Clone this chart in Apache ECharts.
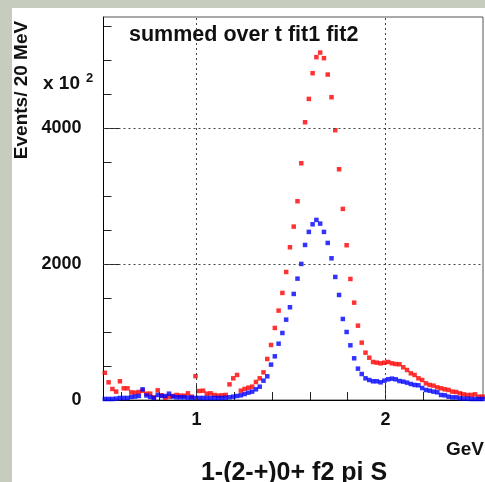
<!DOCTYPE html>
<html>
<head>
<meta charset="utf-8">
<script src="https://cdn.jsdelivr.net/npm/echarts@6/dist/echarts.min.js"></script>
<style>
  html, body { margin: 0; padding: 0; background: #c6ccbe; }
  #paper { position: absolute; left: 12px; top: 8px; width: 473px; height: 474px; background: #fff; }
  #main { position: absolute; left: 0; top: 0; width: 485px; height: 482px; }
</style>
</head>
<body>
<div id="paper"></div>
<div id="main"></div>
<script>
// 20 MeV bins, first bin centre in GeV
const binStart = 0.514;
const binWidth = 0.02;

// summed fit1 (red)
const fit1 = [
  400, 260, 162, 123, 275, 172, 172, 113, 108, 118,
  137, 93, 93, 39, 142, 69, 34, 49, 59, 74,
  64, 64, 98, 49, 350, 132, 137, 93, 98, 74,
  64, 69, 74, 230, 319, 368, 137, 162, 181, 196,
  265, 319, 407, 603, 809, 1059, 1314, 1574, 1882, 2245,
  2549, 2922, 3480, 4083, 4426, 4804, 5040, 5107, 5025, 4784,
  4451, 3966, 3392, 2809, 2275, 1779, 1431, 1093, 843, 696,
  622, 559, 549, 539, 549, 559, 539, 529, 525, 481,
  441, 392, 368, 319, 294, 245, 221, 211, 186, 172,
  157, 147, 123, 118, 98, 83, 74, 74, 83, 49,
  49
];

// summed fit2 (blue)
const fit2 = [
  15, 15, 15, 20, 30, 30, 30, 45, 50, 59,
  157, 66, 45, 30, 74, 59, 59, 93, 52, 40,
  40, 40, 35, 35, 30, 30, 30, 30, 30, 30,
  30, 30, 34, 40, 49, 59, 69, 88, 108, 123,
  157, 196, 284, 348, 520, 642, 828, 985, 1181, 1363,
  1559, 1784, 2000, 2279, 2471, 2583, 2647, 2593, 2471, 2309,
  2083, 1809, 1544, 1191, 1000, 804, 613, 461, 382, 319,
  294, 275, 275, 260, 284, 304, 314, 304, 279, 270,
  255, 235, 221, 216, 176, 147, 137, 123, 113, 74,
  69, 49, 39, 39, 25, 20, 20, 15, 15, 15,
  15
];

const xMajor = [1, 2];
const xMinor = [0.6, 0.8, 1.2, 1.4, 1.6, 1.8, 2.2, 2.4];
const yMajor = [0, 2000, 4000];
const yMinor = [500, 1000, 1500, 2500, 3000, 3500, 4500, 5000, 5500];

const toPoints = (vals) => vals.map((v, i) => [+(binStart + i * binWidth).toFixed(3), v]);

const chart = echarts.init(document.getElementById('main'));
const font = 'Liberation Sans';

const option = {
  animation: false,
  backgroundColor: 'transparent',
  grid: {
    left: 103.5, top: 17, right: 2, bottom: 82,
    show: true, borderColor: '#555', borderWidth: 1, backgroundColor: 'transparent'
  },
  xAxis: [
    {
      type: 'value', min: 0.507, max: 2.516, position: 'bottom',
      axisLine: { lineStyle: { color: '#000', width: 1 } },
      axisTick: { inside: true, length: 16, customValues: xMajor, lineStyle: { color: '#222' } },
      axisLabel: { customValues: xMajor, fontSize: 18, color: '#111', margin: 11, fontFamily: font, fontWeight: 'bold', formatter: (v) => String(v) },
      splitLine: { show: false }
    },
    {
      type: 'value', min: 0.507, max: 2.516, position: 'bottom',
      axisLine: { show: false },
      axisTick: { inside: true, length: 8, customValues: xMinor, lineStyle: { color: '#222' } },
      axisLabel: { show: false },
      splitLine: { show: false }
    }
  ],
  yAxis: [
    {
      type: 'value', min: 0, max: 5630, position: 'left',
      axisLine: { show: true, lineStyle: { color: '#000', width: 1 } },
      axisTick: { show: true, inside: true, length: 16, customValues: yMajor, lineStyle: { color: '#222' } },
      axisLabel: { customValues: yMajor, fontSize: 18, color: '#111', margin: 22, fontFamily: font, fontWeight: 'bold', formatter: (v) => String(v) },
      splitLine: { show: false }
    },
    {
      type: 'value', min: 0, max: 5630, position: 'left',
      axisLine: { show: false },
      axisTick: { show: true, inside: true, length: 8, customValues: yMinor, lineStyle: { color: '#222' } },
      axisLabel: { show: false },
      splitLine: { show: false }
    }
  ],
  series: [
    {
      // dotted grid
      type: 'line', data: [], z: 1, silent: true,
      markLine: {
        silent: true, symbol: 'none', animation: false,
        label: { show: false },
        lineStyle: { type: [2, 3], color: '#444', width: 1 },
        data: [{ xAxis: 1 }, { xAxis: 2 }, { yAxis: 2000 }, { yAxis: 4000 }]
      }
    },
    {
      name: 'fit1', type: 'scatter', symbol: 'rect', symbolSize: 4.5, z: 3,
      itemStyle: { color: '#ff0000' },
      data: toPoints(fit1)
    },
    {
      name: 'fit2', type: 'scatter', symbol: 'rect', symbolSize: 4.5, z: 4,
      itemStyle: { color: '#0000ff' },
      data: toPoints(fit2)
    }
  ],
  graphic: [
    { type: 'text', x: 129, y: 35, style: { text: 'summed over t fit1 fit2', font: 'bold 21.5px "Liberation Sans"', fill: '#111', verticalAlign: 'middle' } },
    { type: 'text', x: 22, y: 90, rotation: Math.PI / 2, style: { text: 'Events/ 20 MeV', font: 'bold 19px "Liberation Sans"', fill: '#111', align: 'center', verticalAlign: 'middle' } },
    { type: 'text', x: 43, y: 84, style: { text: 'x 10', font: 'bold 19px "Liberation Sans"', fill: '#111', verticalAlign: 'middle' } },
    { type: 'text', x: 86, y: 78, style: { text: '2', font: 'bold 13px "Liberation Sans"', fill: '#111', verticalAlign: 'middle' } },
    { type: 'text', x: 484, y: 450, style: { text: 'GeV', font: 'bold 19px "Liberation Sans"', fill: '#111', align: 'right', verticalAlign: 'middle' } },
    { type: 'text', x: 294, y: 473, style: { text: '1-(2-+)0+ f2 pi S', font: 'bold 25px "Liberation Sans"', fill: '#111', align: 'center', verticalAlign: 'middle' } }
  ]
};

chart.setOption(option);
</script>
</body>
</html>
